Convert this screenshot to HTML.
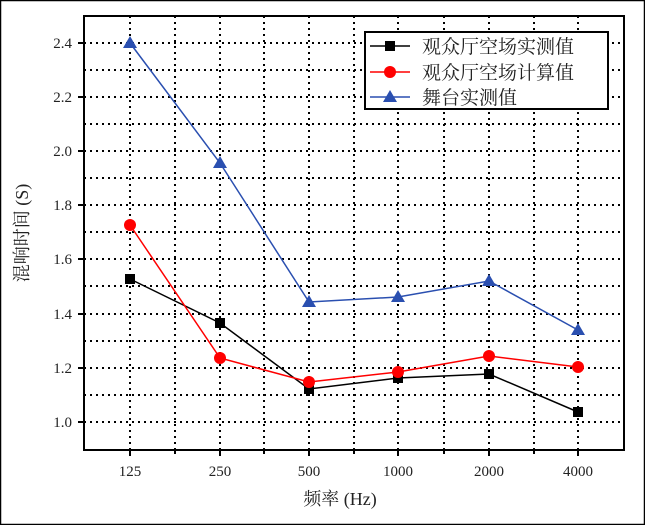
<!DOCTYPE html>
<html><head><meta charset="utf-8"><style>
html,body{margin:0;padding:0;background:#fff}
svg{display:block}
text{font-family:"Liberation Serif","Noto Serif CJK SC",serif;fill:#222}
</style></head><body>
<svg width="645" height="525" viewBox="0 0 645 525" xmlns="http://www.w3.org/2000/svg">
<rect x="0.5" y="0.5" width="644" height="524" fill="#fff" stroke="#000" stroke-width="1.5"/>
<g stroke="#000" stroke-width="2" stroke-dasharray="2,4" fill="none">
<line x1="84" y1="43" x2="624" y2="43"/><line x1="84" y1="70" x2="624" y2="70"/>
<line x1="84" y1="97" x2="624" y2="97"/><line x1="84" y1="124" x2="624" y2="124"/>
<line x1="84" y1="151" x2="624" y2="151"/><line x1="84" y1="178" x2="624" y2="178"/>
<line x1="84" y1="205" x2="624" y2="205"/><line x1="84" y1="232" x2="624" y2="232"/>
<line x1="84" y1="259" x2="624" y2="259"/><line x1="84" y1="286" x2="624" y2="286"/>
<line x1="84" y1="314" x2="624" y2="314"/><line x1="84" y1="341" x2="624" y2="341"/>
<line x1="84" y1="368" x2="624" y2="368"/><line x1="84" y1="395" x2="624" y2="395"/>
<line x1="84" y1="422" x2="624" y2="422"/>
<line x1="130" y1="16" x2="130" y2="450"/><line x1="175" y1="16" x2="175" y2="450"/>
<line x1="220" y1="16" x2="220" y2="450"/><line x1="264" y1="16" x2="264" y2="450"/>
<line x1="309" y1="16" x2="309" y2="450"/><line x1="354" y1="16" x2="354" y2="450"/>
<line x1="398" y1="16" x2="398" y2="450"/><line x1="444" y1="16" x2="444" y2="450"/>
<line x1="489" y1="16" x2="489" y2="450"/><line x1="534" y1="16" x2="534" y2="450"/>
<line x1="578" y1="16" x2="578" y2="450"/>
</g>
<rect x="84" y="16" width="540" height="434" fill="none" stroke="#000" stroke-width="2"/>
<g stroke="#000" stroke-width="2">
<line x1="78" y1="43" x2="84" y2="43"/><line x1="78" y1="97" x2="84" y2="97"/><line x1="78" y1="151" x2="84" y2="151"/><line x1="78" y1="205" x2="84" y2="205"/><line x1="78" y1="259" x2="84" y2="259"/><line x1="78" y1="314" x2="84" y2="314"/><line x1="78" y1="368" x2="84" y2="368"/><line x1="78" y1="422" x2="84" y2="422"/>
<line x1="130" y1="450" x2="130" y2="456"/><line x1="220" y1="450" x2="220" y2="456"/><line x1="309" y1="450" x2="309" y2="456"/><line x1="398" y1="450" x2="398" y2="456"/><line x1="489" y1="450" x2="489" y2="456"/><line x1="578" y1="450" x2="578" y2="456"/>
<line x1="175" y1="450" x2="175" y2="454"/><line x1="264" y1="450" x2="264" y2="454"/><line x1="354" y1="450" x2="354" y2="454"/><line x1="444" y1="450" x2="444" y2="454"/><line x1="534" y1="450" x2="534" y2="454"/>
</g>
<g font-size="15" text-anchor="end">
<text x="72" y="48">2.4</text><text x="72" y="102">2.2</text><text x="72" y="156">2.0</text><text x="72" y="210">1.8</text><text x="72" y="264">1.6</text><text x="72" y="319">1.4</text><text x="72" y="373">1.2</text><text x="72" y="427">1.0</text>
</g>
<g font-size="15" text-anchor="middle">
<text x="130" y="476">125</text><text x="220" y="476">250</text><text x="309" y="476">500</text><text x="398" y="476">1000</text><text x="489" y="476">2000</text><text x="578" y="476">4000</text>
<text x="340" y="505" font-size="18">频率 (Hz)</text>
</g>
<text transform="translate(28,233) rotate(-90)" font-size="18" text-anchor="middle">混响时间 (S)</text>
<polyline fill="none" stroke="#000" stroke-width="1.5" points="130,279 220,323 309,389 398,378 489,374 578,412"/>
<g fill="#000"><rect x="125" y="274" width="10" height="10"/><rect x="215" y="318" width="10" height="10"/><rect x="304" y="384" width="10" height="10"/><rect x="393" y="373" width="10" height="10"/><rect x="484" y="369" width="10" height="10"/><rect x="573" y="407" width="10" height="10"/></g>
<polyline fill="none" stroke="#f00" stroke-width="1.5" points="130,225 220,358 309,382 398,372 489,356 578,367"/>
<g fill="#f00"><circle cx="130" cy="225" r="6"/><circle cx="220" cy="358" r="6"/><circle cx="309" cy="382" r="6"/><circle cx="398" cy="372" r="6"/><circle cx="489" cy="356" r="6"/><circle cx="578" cy="367" r="6"/></g>
<polyline fill="none" stroke="#2a4fb0" stroke-width="1.5" points="130,43 220,163 309,302 398,297 489,281 578,330"/>
<g fill="#2a4fb0"><path d="M130,36l7,12h-14z"/><path d="M220,156l7,12h-14z"/><path d="M309,295l7,12h-14z"/><path d="M398,290l7,12h-14z"/><path d="M489,274l7,12h-14z"/><path d="M578,323l7,12h-14z"/></g>
<rect x="365" y="32" width="243" height="77" fill="#fff" stroke="#000" stroke-width="2"/>
<line x1="370" y1="46" x2="410" y2="46" stroke="#000" stroke-width="1.5"/><rect x="385" y="41" width="10" height="10" fill="#000"/>
<line x1="370" y1="72" x2="410" y2="72" stroke="#f00" stroke-width="1.5"/><circle cx="390" cy="72" r="6" fill="#f00"/>
<line x1="370" y1="97" x2="410" y2="97" stroke="#2a4fb0" stroke-width="1.5"/><path d="M390,90l7,12h-14z" fill="#2a4fb0"/>
<g font-size="19"><text x="422" y="53">观众厅空场实测值</text><text x="422" y="79">观众厅空场计算值</text><text x="422" y="104">舞台实测值</text></g>
</svg>
</body></html>
